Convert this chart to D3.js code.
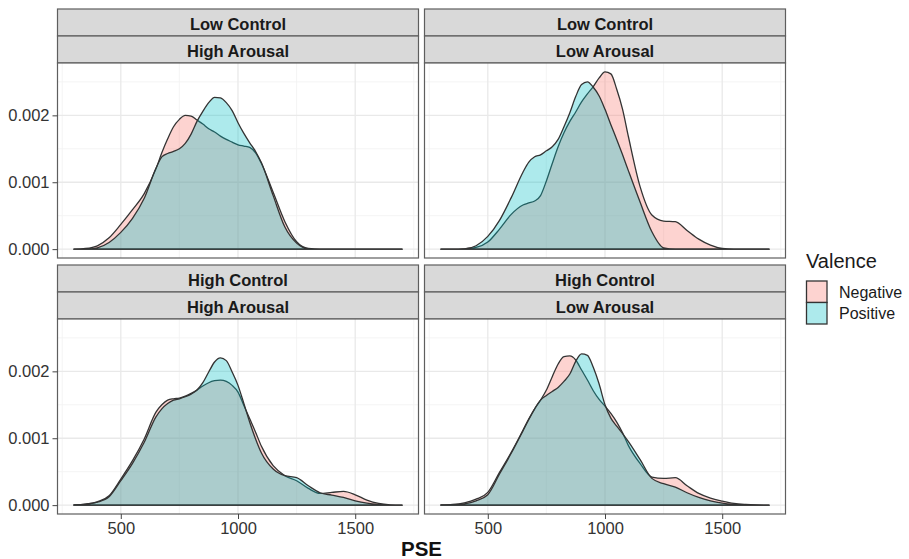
<!DOCTYPE html>
<html>
<head>
<meta charset="utf-8">
<script src="https://cdn.jsdelivr.net/npm/d3@7"></script>
<style>
  body { margin: 0; background: #fff; }
  text { font-family: "Liberation Sans", Arial, Helvetica, sans-serif; }
</style>
</head>
<body>
<svg id="chart" width="909" height="559"></svg>
<script>
// PSE positions at which each density is evaluated
const pse = [300, 350, 400, 450, 500, 550, 600, 650, 675, 700, 725, 750, 775, 800, 825, 850,
             875, 900, 925, 950, 975, 1000, 1025, 1050, 1075, 1100, 1150, 1200, 1250, 1300,
             1350, 1400, 1450, 1500, 1550, 1600, 1650, 1700];

// Facet levels
const controlLevels = ["Low Control", "High Control"];
const arousalLevels = ["High Arousal", "Low Arousal"];
const valenceLevels = ["Negative", "Positive"];

// Density of PSE, per facet and valence
const lowCtrlHighArNeg = [0, 0.00001, 0.00005, 0.00017, 0.00037, 0.00059, 0.00083, 0.0012, 0.00144, 0.00165,
  0.00183, 0.00194, 0.002, 0.00199, 0.00193, 0.00187, 0.0018, 0.00175, 0.00169, 0.00164, 0.0016, 0.00156,
  0.00154, 0.00152, 0.00144, 0.00128, 0.00085, 0.00041, 0.00011, 0.00001, 0, 0, 0, 0, 0, 0, 0, 0];
const lowCtrlHighArPos = [0, 0, 0.00002, 0.0001, 0.00025, 0.00046, 0.00076, 0.00121, 0.00138, 0.00143,
  0.00146, 0.0015, 0.00158, 0.00172, 0.00191, 0.00206, 0.00219, 0.00227, 0.00226, 0.00219, 0.00207, 0.00189,
  0.00173, 0.00159, 0.00146, 0.00129, 0.0008, 0.00033, 0.00009, 0.000005, 0, 0, 0, 0, 0, 0, 0, 0];

const lowCtrlLowArNeg = [0, 0, 0.000005, 0.000025, 0.000105, 0.0003, 0.00052, 0.00066, 0.00069, 0.00072,
  0.0008, 0.00102, 0.00128, 0.00153, 0.00174, 0.00191, 0.00205, 0.0022, 0.00232, 0.00243, 0.00256, 0.00265,
  0.00262, 0.00239, 0.00209, 0.00168, 0.00093, 0.00051, 0.00042, 0.00041, 0.00028, 0.00015, 0.00006, 0.00001,
  0, 0, 0, 0];
const lowCtrlLowArPos = [0, 0, 0.000003, 0.00005, 0.00019, 0.00043, 0.00077, 0.00115, 0.0013, 0.00138,
  0.00141, 0.00147, 0.00153, 0.00164, 0.00183, 0.00204, 0.00228, 0.00246, 0.0025, 0.00242, 0.00229, 0.00209,
  0.00186, 0.00164, 0.00141, 0.00117, 0.0007, 0.00026, 0.00002, 0, 0, 0, 0, 0, 0, 0, 0, 0];

const highCtrlHighArNeg = [0.000005, 0.000015, 0.00005, 0.00014, 0.00039, 0.000665, 0.00099, 0.00139, 0.0015,
  0.00157, 0.00159, 0.0016, 0.00163, 0.00167, 0.00172, 0.00178, 0.00183, 0.00186, 0.00187, 0.00185, 0.00179,
  0.00169, 0.00149, 0.00129, 0.00109, 0.00088, 0.00059, 0.00044, 0.000365, 0.00025, 0.000175, 0.00019,
  0.000205, 0.000155, 0.000075, 0.000025, 0.000005, 0];
const highCtrlHighArPos = [0.000005, 0.000015, 0.000045, 0.000125, 0.000365, 0.000625, 0.00094, 0.00132,
  0.00144, 0.00152, 0.00157, 0.00159, 0.00162, 0.00166, 0.00172, 0.00183, 0.00199, 0.00214, 0.0022, 0.00216,
  0.00199, 0.00179, 0.00152, 0.00124, 0.00099, 0.00078, 0.00054, 0.00044, 0.00041, 0.00029, 0.000185,
  0.00015, 0.000115, 0.000065, 0.00003, 0.00001, 0, 0];

const highCtrlLowArNeg = [0.000003, 0.00001, 0.000035, 0.00009, 0.00019, 0.00049, 0.00079, 0.00112, 0.00129,
  0.00144, 0.00157, 0.00172, 0.00192, 0.00211, 0.00222, 0.00223, 0.00217, 0.00202, 0.00187, 0.00171, 0.00158,
  0.00148, 0.00137, 0.00124, 0.00108, 0.00089, 0.00062, 0.00042, 0.0004, 0.00041, 0.00029, 0.000175,
  0.000105, 0.00006, 0.000025, 0.00001, 0.000003, 0];
const highCtrlLowArPos = [0.000002, 0.000005, 0.00002, 0.000065, 0.000155, 0.000465, 0.000775, 0.00111,
  0.00128, 0.00144, 0.00157, 0.00164, 0.0017, 0.00176, 0.00185, 0.00196, 0.00215, 0.00226, 0.00224, 0.00206,
  0.00181, 0.0015, 0.0013, 0.00118, 0.00107, 0.00095, 0.00068, 0.0004, 0.00032, 0.00027, 0.000185, 0.000115,
  0.000065, 0.00003, 0.00001, 0, 0, 0];

// Axis breaks
const xTicks = [500, 1000, 1500];
const yTicks = [0, 0.001, 0.002];

// Facet table: row = control, column = arousal
const facets = [
  { row: 0, col: 0, neg: lowCtrlHighArNeg,  pos: lowCtrlHighArPos },
  { row: 0, col: 1, neg: lowCtrlLowArNeg,   pos: lowCtrlLowArPos },
  { row: 1, col: 0, neg: highCtrlHighArNeg, pos: highCtrlHighArPos },
  { row: 1, col: 1, neg: highCtrlLowArNeg,  pos: highCtrlLowArPos }
];

const fillColors = { Negative: "#F8766D", Positive: "#00BFC4" };
const fillAlpha = 0.32;
const outline = "#333333";
const frame = "#5e5e5e";
const fontStack = '"Liberation Sans", Arial, Helvetica, sans-serif';

const svg = d3.select("#chart");

// Layout of the facet grid
const colLeft = [57.5, 424.5];
const rowTop = [9, 265];
const panelW = 361;
const stripH = 27;
const plotH = 195;

// Shared scales (fixed across facets)
const xMin = d3.min(pse), xMax = d3.max(pse);
const xPad = (xMax - xMin) * 0.05;
const x = d3.scaleLinear().domain([xMin - xPad, xMax + xPad]).range([0, panelW]);

const maxD = d3.max(facets, f => Math.max(d3.max(f.neg), d3.max(f.pos)));
const y = d3.scaleLinear().domain([-0.05 * maxD, 1.05 * maxD]).range([plotH, 0]);

const xMinor = [250, 750, 1250, 1750].filter(v => v >= x.domain()[0] && v <= x.domain()[1]);
const yMinor = [0.0005, 0.0015, 0.0025].filter(v => v <= y.domain()[1]);

const area = d3.area()
  .x(d => x(d[0]))
  .y0(y(0))
  .y1(d => y(d[1]))
  .curve(d3.curveMonotoneX);

facets.forEach(f => {
  const left = colLeft[f.col];
  const top = rowTop[f.row];
  const plotTop = top + 2 * stripH;

  // Strips: control on top, arousal below
  const strips = [controlLevels[f.row], arousalLevels[f.col]];
  strips.forEach((label, i) => {
    svg.append("rect")
      .attr("x", left).attr("y", top + i * stripH)
      .attr("width", panelW).attr("height", stripH)
      .attr("fill", "#d9d9d9").attr("stroke", frame).attr("stroke-width", 1.2);
    svg.append("text")
      .attr("x", left + panelW / 2).attr("y", top + i * stripH + stripH / 2 + 1)
      .attr("text-anchor", "middle").attr("dominant-baseline", "central")
      .attr("font-size", 16.5).attr("font-weight", "bold").attr("fill", "#1a1a1a")
      .text(label);
  });

  const g = svg.append("g").attr("transform", `translate(${left},${plotTop})`);

  g.append("rect").attr("width", panelW).attr("height", plotH).attr("fill", "#fff");

  // Grid lines
  g.selectAll(".xminor").data(xMinor).join("line")
    .attr("x1", d => x(d)).attr("x2", d => x(d)).attr("y1", 0).attr("y2", plotH)
    .attr("stroke", "#f3f3f3").attr("stroke-width", 0.9);
  g.selectAll(".yminor").data(yMinor).join("line")
    .attr("y1", d => y(d)).attr("y2", d => y(d)).attr("x1", 0).attr("x2", panelW)
    .attr("stroke", "#f3f3f3").attr("stroke-width", 0.9);
  g.selectAll(".xmajor").data(xTicks).join("line")
    .attr("x1", d => x(d)).attr("x2", d => x(d)).attr("y1", 0).attr("y2", plotH)
    .attr("stroke", "#e9e9e9").attr("stroke-width", 1.3);
  g.selectAll(".ymajor").data(yTicks).join("line")
    .attr("y1", d => y(d)).attr("y2", d => y(d)).attr("x1", 0).attr("x2", panelW)
    .attr("stroke", "#e9e9e9").attr("stroke-width", 1.3);

  // Density areas, Negative first then Positive
  [["Negative", f.neg], ["Positive", f.pos]].forEach(([key, vals]) => {
    g.append("path")
      .datum(pse.map((p, i) => [p, vals[i]]))
      .attr("d", area)
      .attr("fill", fillColors[key]).attr("fill-opacity", fillAlpha)
      .attr("stroke", outline).attr("stroke-width", 1.3).attr("stroke-linejoin", "round");
  });

  g.append("rect").attr("width", panelW).attr("height", plotH)
    .attr("fill", "none").attr("stroke", frame).attr("stroke-width", 1.2);

  // Axes on outer panels only
  if (f.row === 1) {
    const ax = g.append("g").attr("transform", `translate(0,${plotH})`)
      .call(d3.axisBottom(x).tickValues(xTicks).tickSize(5).tickPadding(3).tickFormat(d3.format("d")));
    ax.select(".domain").remove();
    ax.selectAll("line").attr("stroke", "#444");
    ax.selectAll("text").attr("font-size", 16.5).attr("fill", "#333").style("font-family", fontStack);
  }
  if (f.col === 0) {
    const ay = g.append("g")
      .call(d3.axisLeft(y).tickValues(yTicks).tickSize(5).tickPadding(3).tickFormat(d3.format(".3f")));
    ay.select(".domain").remove();
    ay.selectAll("line").attr("stroke", "#444");
    ay.selectAll("text").attr("font-size", 16.5).attr("fill", "#333").style("font-family", fontStack);
  }
});

// X axis title
svg.append("text")
  .attr("x", (colLeft[0] + colLeft[1] + panelW) / 2).attr("y", 556)
  .attr("text-anchor", "middle").attr("font-size", 20.5).attr("font-weight", "bold").attr("fill", "#111")
  .text("PSE");

// Legend
const legend = svg.append("g").attr("transform", "translate(806,0)");
legend.append("text").attr("x", 0).attr("y", 268)
  .attr("font-size", 20).attr("fill", "#1a1a1a").text("Valence");
valenceLevels.forEach((key, i) => {
  const ky = 281 + i * 21.5;
  legend.append("rect").attr("x", 0.5).attr("y", ky).attr("width", 20.5).attr("height", 21.5)
    .attr("fill", "#fff");
  legend.append("rect").attr("x", 0.5).attr("y", ky).attr("width", 20.5).attr("height", 21.5)
    .attr("fill", fillColors[key]).attr("fill-opacity", fillAlpha)
    .attr("stroke", outline).attr("stroke-width", 1.3);
  legend.append("text").attr("x", 33).attr("y", ky + 11)
    .attr("dominant-baseline", "central").attr("font-size", 16).attr("fill", "#1a1a1a")
    .text(key);
});
</script>
</body>
</html>
